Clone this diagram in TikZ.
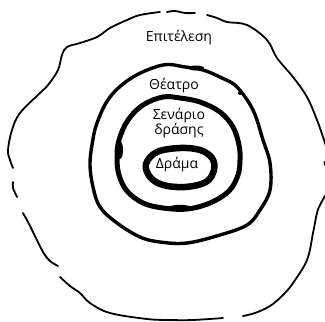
\documentclass[tikz,border=0pt]{standalone}
\usepackage{fontspec}
\setmainfont{Open Sans}
\begin{document}
\begin{tikzpicture}[x=1pt,y=-1pt,
  outerline/.style={line width=1.8pt,line cap=round,line join=round},
  ringB/.style={line width=3.4pt,line join=round},
  ringC/.style={line width=5pt,line join=round},
  ringD/.style={line width=6.5pt,line join=round},
  label/.style={font=\fontsize{14}{16}\selectfont,inner sep=0pt}]
\useasboundingbox[fill=white] (0,0) rectangle (325,322);
% outer hand-drawn boundary (with gaps)
\draw[outerline] plot[smooth,tension=0.6] coordinates {(160,12) (140,15) (127,20) (110,28) (97,37) (80,43) (67,47) (62,55) (58,70) (48,85) (40,93) (20,113) (12,130) (8,150) (10,160) (13,168)};
\draw[outerline] plot[smooth] coordinates {(167,12) (175,11) (185,13) (195,13)};
\draw[outerline] plot[smooth,tension=0.6] coordinates {(207,15) (217,18) (227,22) (247,25) (267,40) (277,58) (293,77) (307,97) (317,120) (323,137) (326,146)};
\draw[outerline] (324.5,162) -- (325,165);
\draw[outerline] plot[smooth] coordinates {(13,182) (13,188) (17,197)};
\draw[outerline] plot[smooth] coordinates {(23,213) (28,222) (33,232) (43,252) (50,261) (58,266)};
\draw[outerline] plot[smooth,tension=0.6] coordinates {(60,277) (70,286) (80,293) (90,303) (110,313) (147,319) (170,320) (193,320) (223,318)};
\draw[outerline] plot[smooth,tension=0.6] coordinates {(243,316) (255,313) (270,306) (283,295) (293,283) (307,260) (313,233) (317,213) (320,205) (325,196)};
% Theatre ring
\draw[ringB] plot[smooth cycle,tension=0.6] coordinates {(163,65) (185,67) (203,70) (222,78) (237,87) (253,110) (263,140) (270,163) (270,190) (260,210) (247,225) (220,235) (187,243) (160,242) (140,237) (117,223) (100,207) (93,187) (90,165) (92,145) (97,123) (110,97) (133,77)};
\fill (196,68) ellipse (8pt and 2.5pt);
\fill (240,93) circle (2pt);
% Scenario ring
\draw[ringC] plot[smooth cycle,tension=0.6] coordinates {(163,97) (180,98) (200,102) (220,112) (233,127) (239,145) (240,160) (238,175) (229,191) (210,203) (187,209) (163,208) (143,203) (127,191) (119,175) (117,158) (119,140) (128,120) (143,105)};
\fill (120,150) ellipse (3pt and 9pt);
\fill (180,208) ellipse (12pt and 3.2pt);
% Drama ring
\draw[ringD] plot[smooth cycle,tension=0.6] coordinates {(180,148) (200,150) (212,158) (214,170) (206,182) (185,187) (163,185) (150,177) (146,164) (157,152)};
% labels
\node[label] (epitelesi) at (179,38) {Επιτέλεση};
\node[label] (theatro) at (174,86) {Θέατρο};
\node[label] (senario) at (179,116) {Σενάριο};
\node[label] (drasis) at (179,131) {δράσης};
\node[label] (drama) at (177,165) {Δράμα};
\end{tikzpicture}
\end{document}
